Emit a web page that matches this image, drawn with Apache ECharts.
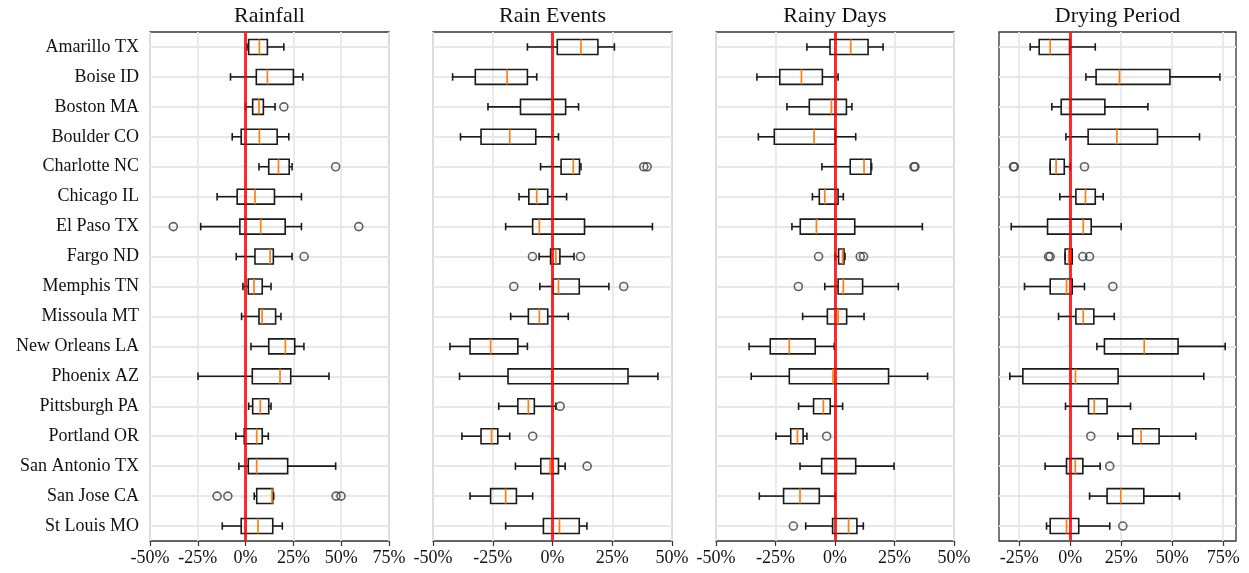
<!DOCTYPE html>
<html><head><meta charset="utf-8">
<script src="https://cdn.jsdelivr.net/npm/echarts@6/dist/echarts.min.js"></script>
<style>html,body{margin:0;padding:0;background:#fff}#c{width:1249px;height:573px}</style>
</head><body><div id="c"></div>
<script>
const cities = ['Amarillo TX','Boise ID','Boston MA','Boulder CO','Charlotte NC','Chicago IL','El Paso TX','Fargo ND','Memphis TN','Missoula MT','New Orleans LA','Phoenix AZ','Pittsburgh PA','Portland OR','San Antonio TX','San Jose CA','St Louis MO'];
const panelTitles = ['Rainfall','Rain Events','Rainy Days','Drying Period'];

// [whisker low, Q1, median, Q3, whisker high] in %
const rainfallStats = [
  [0.7,1.6,7.2,11.4,20.0],[-7.9,5.6,11.4,25.0,29.9],[0.0,3.7,7.0,9.3,15.4],[-7.0,-2.3,7.2,16.5,22.6],
  [7.0,12.1,17.2,22.8,24.3],[-14.9,-4.4,4.9,15.1,29.2],[-23.5,-3.0,7.9,20.7,29.2],[-4.9,4.9,12.8,14.5,24.3],
  [-1.4,1.4,4.4,8.7,13.3],[-2.1,7.0,8.6,15.7,18.5],[2.8,12.1,20.8,25.7,30.5],[-24.9,3.5,18.0,23.6,43.6],
  [1.6,3.7,7.7,12.1,13.3],[-5.1,-0.7,5.8,8.7,11.9],[-3.5,1.4,5.8,22.0,47.1],[4.5,5.8,13.8,14.2,14.7],
  [-12.2,-2.3,6.5,14.2,19.2]
];
const rainfallOutliers = [[],[],[20.0],[],[47.1],[],[-37.8,59.2],[30.6],[],[],[],[],[],[],[],[-14.9,-9.3,47.3,49.9],[]];

const rainEventsStats = [
  [-10.5,2.0,11.9,19.0,25.9],[-41.8,-32.3,-19.0,-10.5,-6.6],[-27.0,-13.4,0.3,5.5,10.9],[-38.5,-29.9,-17.9,-7.0,2.5],
  [-5.0,3.6,8.7,11.3,11.9],[-14.0,-9.9,-6.6,-2.0,5.9],[-19.6,-8.3,-5.5,13.4,41.8],[-5.6,-0.8,1.4,3.1,9.0],
  [-5.3,0.3,2.5,11.2,23.6],[-17.5,-10.1,-5.5,-2.0,6.6],[-42.9,-34.5,-25.9,-14.5,-10.5],[-38.9,-18.6,-0.3,31.6,44.1],
  [-22.5,-14.5,-10.1,-7.6,1.4],[-37.9,-29.9,-25.5,-22.9,-17.9],[-15.5,-4.9,-1.0,2.5,5.3],[-34.5,-25.9,-19.6,-15.1,-8.3],
  [-19.6,-3.8,2.9,11.2,14.4]
];
const rainEventsOutliers = [[],[],[],[],[38.2,39.6],[],[],[-8.4,11.7],[-16.2,29.8],[],[],[],[3.2],[-8.3],[14.5],[],[]];

const rainyDaysStats = [
  [-11.8,-2.1,6.6,13.9,20.2],[-32.8,-23.2,-14.1,-5.3,1.3],[-20.2,-10.8,-1.5,4.8,7.1],[-32.2,-25.5,-8.8,0.1,8.7],
  [-5.5,6.4,12.2,15.1,15.4],[-9.5,-6.6,-4.3,1.3,3.5],[-18.1,-14.6,-7.8,8.3,36.7],[0.0,1.5,3.2,3.8,4.2],
  [-4.3,1.3,3.5,11.6,26.6],[-13.6,-3.2,1.3,4.9,12.2],[-36.1,-27.2,-19.2,-8.3,-0.3],[-35.2,-19.2,-0.8,22.5,38.9],
  [-15.3,-9.0,-4.9,-2.0,3.2],[-24.8,-18.6,-15.8,-13.4,-11.8],[-14.7,-5.6,0.7,8.7,24.8],[-31.8,-21.6,-14.7,-6.6,0.1],
  [-12.3,-1.0,5.7,9.2,11.9]
];
const rainyDaysOutliers = [[],[],[],[],[33.2,33.6],[],[],[-6.9,10.6,12.0],[-15.4],[],[],[],[],[-3.5],[],[],[-17.5]];

const dryingStats = [
  [-19.6,-15.2,-9.8,-0.3,12.3],[7.7,12.7,24.2,48.9,73.4],[-9.0,-4.4,0.2,17.0,38.1],[-2.1,8.8,22.9,42.8,63.4],
  [-9.8,-9.8,-6.9,-2.9,0.0],[-5.1,2.8,7.5,12.3,16.2],[-28.9,-11.1,6.4,10.3,25.0],[-2.5,-2.5,-0.7,1.0,1.0],
  [-22.4,-9.8,-1.8,1.0,7.0],[-5.7,2.8,6.4,11.6,21.6],[13.1,16.8,36.3,52.9,76.0],[-29.6,-23.2,2.6,23.5,65.5],
  [-2.3,9.0,11.8,18.1,29.6],[23.4,30.7,34.8,43.6,61.6],[-12.3,-1.8,2.5,6.2,14.7],[9.5,18.1,24.8,36.1,53.6],
  [-11.6,-9.8,-1.8,4.2,19.4]
];
const dryingOutliers = [[],[],[],[],[-27.8,-27.4,7.0],[],[],[-10.6,-9.8,6.2,9.5],[20.9],[],[],[],[],[10.1],[19.4],[],[25.8]];

const tickValues = [-50,-25,0,25,50,75];

const panels = [
  {stats: rainfallStats, outliers: rainfallOutliers, left: 150, width: 239, min: -50, max: 75},
  {stats: rainEventsStats, outliers: rainEventsOutliers, left: 433, width: 239, min: -50, max: 50},
  {stats: rainyDaysStats, outliers: rainyDaysOutliers, left: 716, width: 238, min: -50, max: 50},
  {stats: dryingStats, outliers: dryingOutliers, left: 999, width: 237, min: -34.9, max: 81.3}
];

const FONT = 'Liberation Serif';
const grids = [], xAxes = [], yAxes = [], series = [], graphics = [];

function renderBox(params, api) {
  const cat = api.value(0);
  const lo = api.coord([api.value(1), cat]);
  const q1 = api.coord([api.value(2), cat]);
  const md = api.coord([api.value(3), cat]);
  const q3 = api.coord([api.value(4), cat]);
  const hi = api.coord([api.value(5), cat]);
  const band = api.size([0, 1])[1];
  const h = band * 0.5, c = band * 0.25;
  const y = lo[1];
  const ls = {stroke: '#1a1a1a', lineWidth: 1.6, fill: null};
  return {type: 'group', children: [
    {type: 'line', shape: {x1: lo[0], y1: y, x2: q1[0], y2: y}, style: ls},
    {type: 'line', shape: {x1: q3[0], y1: y, x2: hi[0], y2: y}, style: ls},
    {type: 'line', shape: {x1: lo[0], y1: y - c/2, x2: lo[0], y2: y + c/2}, style: ls},
    {type: 'line', shape: {x1: hi[0], y1: y - c/2, x2: hi[0], y2: y + c/2}, style: ls},
    {type: 'rect', shape: {x: q1[0], y: y - h/2, width: q3[0] - q1[0], height: h}, style: {stroke: '#1a1a1a', lineWidth: 1.6, fill: 'rgba(0,0,0,0)'}},
    {type: 'line', shape: {x1: md[0], y1: y - h/2, x2: md[0], y2: y + h/2}, style: {stroke: '#ff7f0e', lineWidth: 1.7}}
  ]};
}

panels.forEach((p, i) => {
  grids.push({left: p.left, width: p.width, top: 32, height: 509, show: true,
    borderColor: '#333', borderWidth: 1.3, backgroundColor: 'transparent'});
  const isLast = i === 3;
  const xa = {type: 'value', gridIndex: i, min: p.min, max: p.max,
    axisLine: {show: false},
    axisTick: {show: true, length: 5, lineStyle: {color: '#333', width: 1.2}},
    axisLabel: {fontFamily: FONT, fontSize: 18, color: '#111', margin: 8, formatter: v => v + '%'},
    splitLine: {show: true, lineStyle: {color: '#e8e8e8', width: 1.8}}
  };
  if (isLast) {
    xa.minInterval = 25; xa.maxInterval = 25; xa.splitNumber = 5;
    xa.axisTick.customValues = tickValues.slice(1);
    xa.axisLabel.customValues = tickValues.slice(1);
  } else {
    xa.interval = 25;
  }
  xAxes.push(xa);
  yAxes.push({type: 'category', gridIndex: i, data: cities, inverse: true, boundaryGap: true,
    axisLine: {show: false},
    axisTick: {show: true, alignWithLabel: true, length: 5, lineStyle: {color: '#333', width: 1.2}},
    axisLabel: {show: i === 0, fontFamily: FONT, fontSize: 18, color: '#111', margin: 11},
    splitLine: {show: false}
  });
  // horizontal grid lines at category centres
  series.push({type: 'line', xAxisIndex: i, yAxisIndex: i, data: [], z: 1, silent: true,
    markLine: {z: 1, silent: true, symbol: 'none', label: {show: false}, animation: false,
      lineStyle: {color: '#e8e8e8', width: 1.8, type: 'solid'},
      data: cities.map(c => ({yAxis: c}))}
  });
  series.push({type: 'custom', xAxisIndex: i, yAxisIndex: i, z: 3, silent: true,
    renderItem: renderBox, encode: {x: [1,2,3,4,5], y: 0},
    data: p.stats.map((s, k) => [k].concat(s))
  });
  const outs = [];
  p.outliers.forEach((arr, k) => arr.forEach(v => outs.push([v, k])));
  series.push({type: 'scatter', xAxisIndex: i, yAxisIndex: i, z: 4, silent: true,
    symbol: 'circle', symbolSize: 8,
    itemStyle: {color: 'rgba(0,0,0,0)', borderColor: '#3a3a3a', borderWidth: 1.6},
    data: outs
  });
  // red zero line
  series.push({type: 'line', xAxisIndex: i, yAxisIndex: i, data: [], z: 10, silent: true,
    markLine: {z: 10, silent: true, symbol: 'none', label: {show: false}, animation: false,
      lineStyle: {color: 'rgba(255,0,0,0.82)', width: 3, type: 'solid'},
      data: [{xAxis: 0}]}
  });
  graphics.push({type: 'text', x: p.left + p.width / 2, y: 16.5,
    style: {text: panelTitles[i], font: '22px "Liberation Serif"', fill: '#111', textAlign: 'center', textVerticalAlign: 'middle'}});
});

const chart = echarts.init(document.getElementById('c'), null, {renderer: 'canvas'});
chart.setOption({
  animation: false,
  backgroundColor: '#fff',
  grid: grids, xAxis: xAxes, yAxis: yAxes, series: series, graphic: graphics
});
</script>
</body></html>
